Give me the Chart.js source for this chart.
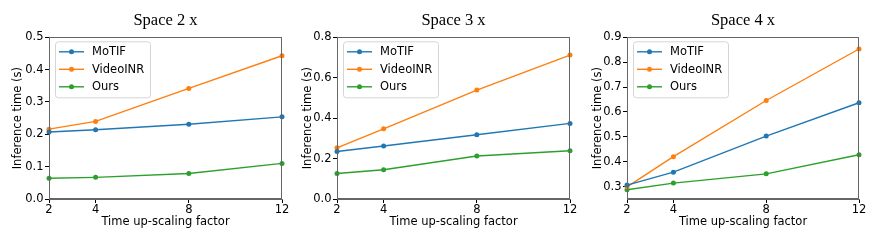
<!DOCTYPE html>
<html>
<head>
<meta charset="utf-8">
<script src="https://cdn.jsdelivr.net/npm/chart.js@4"></script>
<style>
  html, body { margin: 0; padding: 0; background: #fff; }
  #wrap { position: relative; width: 872px; height: 241px; }
  .panel { position: absolute; top: 0; height: 241px; }
</style>
</head>
<body>
<div id="wrap">
  <div class="panel" style="left:0;width:290px"><canvas id="c2x"></canvas></div>
  <div class="panel" style="left:290px;width:290px"><canvas id="c3x"></canvas></div>
  <div class="panel" style="left:580px;width:292px"><canvas id="c4x"></canvas></div>
</div>
<script>
// time up-scaling factors (x axis)
const xFactors = [2, 4, 8, 12];
const seriesNames = ['MoTIF', 'VideoINR', 'Ours'];
const seriesColors = ['#1f77b4', '#ff7f0e', '#2ca02c'];

// Space 2 x
const motif2x = [0.207, 0.214, 0.231, 0.254];
const videoinr2x = [0.216, 0.240, 0.342, 0.443];
const ours2x = [0.064, 0.067, 0.079, 0.110];
const yTicks2x = [0, 0.1, 0.2, 0.3, 0.4, 0.5];

// Space 3 x
const motif3x = [0.235, 0.262, 0.318, 0.374];
const videoinr3x = [0.253, 0.347, 0.539, 0.712];
const ours3x = [0.126, 0.145, 0.213, 0.239];
const yTicks3x = [0, 0.2, 0.4, 0.6, 0.8];

// Space 4 x
const motif4x = [0.306, 0.358, 0.503, 0.637];
const videoinr4x = [0.299, 0.420, 0.646, 0.853];
const ours4x = [0.287, 0.314, 0.351, 0.428];
const yTicks4x = [0.3, 0.4, 0.5, 0.6, 0.7, 0.8, 0.9];

const FONT = 'DejaVu Sans';

// frame (all four spines) + legend box inside the plot
const framePlugin = {
    id: 'frameAndLegend',
    afterDraw(chart) {
        const { ctx, chartArea: a } = chart;
        ctx.save();
        ctx.strokeStyle = '#666';
        ctx.lineWidth = 1;
        const l = Math.round(a.left) + 0.5, t = Math.round(a.top) + 0.5;
        const r = Math.round(a.right) - 0.5, b = Math.round(a.bottom) - 0.5;
        ctx.strokeRect(l, t, r - l, b - t);

        // legend
        const bx = a.left + 6, by = a.top + 4, bw = 95, bh = 56;
        ctx.beginPath();
        ctx.roundRect(bx + 0.5, by + 0.5, bw, bh, 3);
        ctx.fillStyle = 'rgba(255,255,255,0.8)';
        ctx.fill();
        ctx.strokeStyle = '#d5d5d5';
        ctx.stroke();
        ctx.font = '11.5px "' + FONT + '"';
        ctx.textBaseline = 'middle';
        chart.data.datasets.forEach((ds, i) => {
            const y = by + 10.5 + i * 17.5;
            ctx.strokeStyle = ds.borderColor;
            ctx.lineWidth = 1.4;
            ctx.beginPath();
            ctx.moveTo(bx + 4, y);
            ctx.lineTo(bx + 29, y);
            ctx.stroke();
            ctx.fillStyle = ds.borderColor;
            ctx.beginPath();
            ctx.arc(bx + 16.5, y, 2.5, 0, Math.PI * 2);
            ctx.fill();
            ctx.fillStyle = '#000';
            ctx.fillText(ds.label, bx + 37, y + 0.5);
        });
        ctx.restore();
    }
};

function makeChart(id, title, values, yTicks, yWidth, rightPad) {
    const datasets = values.map((vals, i) => ({
        label: seriesNames[i],
        data: xFactors.map((x, j) => ({ x: x, y: vals[j] })),
        borderColor: seriesColors[i],
        backgroundColor: seriesColors[i],
        borderWidth: 1.4,
        pointRadius: 2.5,
        pointBorderWidth: 0,
        tension: 0,
        clip: false
    }));
    new Chart(document.getElementById(id), {
        type: 'line',
        data: { datasets: datasets },
        options: {
            responsive: true,
            maintainAspectRatio: false,
            animation: false,
            layout: { padding: { left: 0, right: rightPad, top: 0, bottom: 0 } },
            plugins: {
                legend: { display: false },
                tooltip: { enabled: false },
                title: {
                    display: true,
                    text: title,
                    fullSize: false,
                    color: '#000',
                    font: { family: 'Liberation Serif', size: 16.5, weight: 'normal' },
                    padding: { top: 11, bottom: 6.5 }
                }
            },
            scales: {
                x: {
                    type: 'linear',
                    min: xFactors[0],
                    max: xFactors[xFactors.length - 1],
                    afterBuildTicks: s => { s.ticks = xFactors.map(v => ({ value: v })); },
                    afterFit: s => { s.height = 42; },
                    grid: { drawOnChartArea: false, drawTicks: true, tickLength: 4, tickColor: '#000' },
                    border: { display: true, color: '#666' },
                    ticks: { color: '#000', padding: 0, maxRotation: 0, font: { family: FONT, size: 11.5 } },
                    title: {
                        display: true, text: 'Time up-scaling factor', color: '#000',
                        font: { family: FONT, size: 11.5 }, padding: { top: 0, bottom: 12 }
                    }
                },
                y: {
                    min: yTicks[0] === 0.3 ? 0.25 : yTicks[0],
                    max: yTicks[yTicks.length - 1],
                    afterBuildTicks: s => { s.ticks = yTicks.map(v => ({ value: v })); },
                    afterFit: s => { s.width = yWidth; },
                    grid: { drawOnChartArea: false, drawTicks: true, tickLength: 4, tickColor: '#000' },
                    border: { display: true, color: '#666' },
                    ticks: {
                        color: '#000', padding: 1.5, font: { family: FONT, size: 11.5 },
                        callback: v => v.toFixed(1)
                    },
                    title: {
                        display: true, text: 'Inference time (s)', color: '#000',
                        font: { family: FONT, size: 11.5 }, padding: { top: 11, bottom: 0 }
                    }
                }
            }
        },
        plugins: [framePlugin]
    });
}

makeChart('c2x', 'Space 2 x', [motif2x, videoinr2x, ours2x], yTicks2x, 49, 8);
makeChart('c3x', 'Space 3 x', [motif3x, videoinr3x, ours3x], yTicks3x, 47, 10);
makeChart('c4x', 'Space 4 x', [motif4x, videoinr4x, ours4x], yTicks4x, 47, 13);
</script>
</body>
</html>
